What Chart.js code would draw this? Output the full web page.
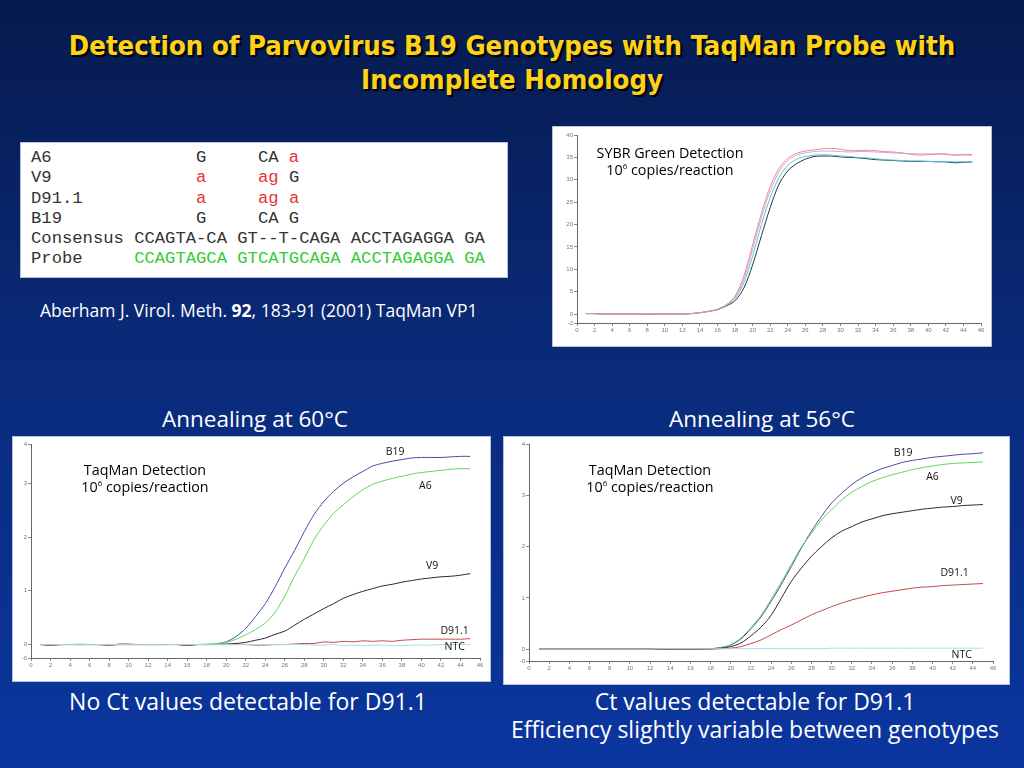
<!DOCTYPE html>
<html>
<head>
<meta charset="utf-8">
<script src="https://cdn.jsdelivr.net/npm/chart.js@4.4.0/dist/chart.umd.min.js"></script>
<style>
  html, body { margin: 0; padding: 0; }
  body {
    width: 1024px; height: 768px; position: relative; overflow: hidden;
    background: linear-gradient(180deg, #061a4e 0%, #0a2a78 45%, #0b36a0 100%);
    font-family: "Open Sans", "DejaVu Sans", sans-serif;
  }
  .abs { position: absolute; }
  .title {
    left: 0; width: 1024px; top: 29px; text-align: center;
    font-family: "DejaVu Sans Condensed", "DejaVu Sans", sans-serif;
    font-weight: bold; font-size: 27.3px; line-height: 34px; color: #ffd21a;
    text-shadow: 2px 2px 1px #000;
  }
  .white { color: #fff; }
  .box { background: #fff; border: 1px solid #b8c0d8; }
  .seq {
    left: 20px; top: 142px; width: 488px; height: 136px;
    font-family: "Liberation Mono", "DejaVu Sans Mono", monospace;
    font-size: 17.2px; line-height: 20.3px; color: #333; white-space: pre;
    padding: 5px 0 0 10px; box-sizing: border-box;
  }
  .r { color: #e83030; }
  .g { color: #33cc33; }
  .note { font-size: 14.3px; color: #000; text-align: center; line-height: 17px; }
  .note sup { font-size: 8px; line-height: 0; }
  canvas { position: absolute; }
</style>
</head>
<body>
<div class="abs title">Detection of Parvovirus B19 Genotypes with TaqMan Probe with<br>Incomplete Homology</div>

<div class="abs box seq">A6              G     CA <span class="r">a</span>
V9              <span class="r">a</span>     <span class="r">ag</span> G
D91.1           <span class="r">a</span>     <span class="r">ag a</span>
B19             G     CA G
Consensus CCAGTA-CA GT--T-CAGA ACCTAGAGGA GA
Probe     <span class="g">CCAGTAGCA GTCATGCAGA ACCTAGAGGA GA</span></div>

<div class="abs white" style="left:40px; top:298px; font-size:17.5px;">Aberham J. Virol. Meth. <b>92</b>, 183-91 (2001) TaqMan VP1</div>

<div class="abs box" style="left:552px; top:126px; width:438px; height:219px;"></div>
<canvas id="sybr" width="438" height="219" style="left:552px; top:126px;"></canvas>
<div class="abs note" style="left:580px; width:180px; top:144px;">SYBR Green Detection<br>10<sup>6</sup> copies/reaction</div>

<div class="abs white" style="left:105px; width:300px; top:403px; text-align:center; font-size:22.5px;">Annealing at 60°C</div>
<div class="abs white" style="left:612px; width:300px; top:403px; text-align:center; font-size:22.5px;">Annealing at 56°C</div>

<div class="abs box" style="left:12px; top:436px; width:477px; height:244px;"></div>
<canvas id="t60" width="477" height="244" style="left:12px; top:436px;"></canvas>
<div class="abs note" style="left:55px; width:180px; top:461px;">TaqMan Detection<br>10<sup>6</sup> copies/reaction</div>

<div class="abs box" style="left:503px; top:436px; width:505px; height:247px;"></div>
<canvas id="t56" width="505" height="247" style="left:503px; top:436px;"></canvas>
<div class="abs note" style="left:560px; width:180px; top:461px;">TaqMan Detection<br>10<sup>6</sup> copies/reaction</div>

<div class="abs white" style="left:0px; width:496px; top:687px; text-align:center; font-size:23px; line-height:28px;">No Ct values detectable for D91.1</div>
<div class="abs white" style="left:505px; width:500px; top:687px; text-align:center; font-size:23px; line-height:28px;">Ct values detectable for D91.1<br>Efficiency slightly variable between genotypes</div>

<script>
// PCR cycles
const cycles = [1,2,3,4,5,6,7,8,9,10,11,12,13,14,15,16,17,18,19,20,21,22,23,24,25,26,27,28,29,30,31,32,33,34,35,36,37,38,39,40,41,42,43,44,45];
const xTicks = [0,2,4,6,8,10,12,14,16,18,20,22,24,26,28,30,32,34,36,38,40,42,44,46];

// SYBR green, 4 genotypes
const sybrPink = [0.1,0.1,0,0,0,0,0,0,0,0,0,0,0.1,0.3,0.6,1.1,2.1,4.0,8.5,15.5,22.5,28.5,32.5,34.8,35.9,36.4,36.7,36.9,37.0,36.8,36.5,36.5,36.6,36.5,36.3,36.2,36.0,35.7,35.5,35.6,35.8,35.8,35.5,35.7,35.6];
const sybrLav = [0.1,0.1,0,0,0,0,0,0,0,0,0,0,0.1,0.3,0.6,1.1,2.0,3.8,7.8,14.5,21.5,27.5,31.8,34.3,35.5,36.0,36.3,36.4,36.4,36.3,36.2,36.3,36.3,36.2,36.1,36.0,35.9,35.8,35.8,35.8,35.7,35.6,35.5,35.5,35.5];
const sybrCyan = [0.1,0.1,0,0,0,0,0,0,0,0,0,0,0.1,0.3,0.6,1.0,1.9,3.5,7.0,13.0,20.0,26.0,30.5,33.2,34.6,35.2,35.5,35.6,35.5,35.3,35.2,35.0,34.9,34.7,34.5,34.4,34.3,34.2,34.2,34.1,34.1,34.1,34.0,34.0,34.0];
const sybrDark = [0.1,0.1,0,0,0,0,0,-0.1,0,0,0,0,0.1,0.3,0.6,1.0,1.8,3.0,5.8,11.0,17.5,23.8,29.0,32.0,33.6,34.6,35.2,35.3,35.3,35.1,35.0,34.9,34.7,34.5,34.4,34.3,34.2,34.1,34.1,34.1,34.0,34.0,33.8,33.9,34.0];
const sybrYTicks = [-2,0,5,10,15,20,25,30,35,40];
const sybrYLabels = ['-2','0','5','10','15','20','25','30','35','40'];

// TaqMan, annealing 60 C
const t60B19 = [0,0,0,0,0,0,0,0,0,0,0,0,0,0,0,-0.01,0,0,0.01,0.05,0.15,0.3,0.52,0.76,1.07,1.42,1.75,2.1,2.42,2.66,2.85,3.0,3.12,3.22,3.32,3.37,3.41,3.44,3.47,3.48,3.48,3.48,3.49,3.5,3.5];
const t60A6 = [0,-0.01,0,0,0.01,0,0,0,0,0,0,0,0,0,0,-0.01,0,0.01,0.02,0.04,0.1,0.18,0.28,0.4,0.6,0.9,1.27,1.6,1.95,2.22,2.44,2.6,2.75,2.88,2.98,3.04,3.09,3.13,3.17,3.2,3.22,3.24,3.26,3.27,3.27];
const t60V9 = [0,-0.01,0,0,0,0,0,-0.01,0,0,0,0,0,0,0,-0.01,0,0,0,0.01,0.02,0.04,0.08,0.12,0.19,0.25,0.36,0.47,0.57,0.67,0.76,0.86,0.93,0.99,1.04,1.09,1.12,1.16,1.19,1.22,1.24,1.26,1.27,1.29,1.32];
const t60D91 = [0,-0.01,0,0,0,0,0,-0.01,0.01,0.01,0,0,0,0,0,-0.01,0,0,0,0,0,0,-0.01,-0.01,0,0,0.01,0.02,0.02,0.05,0.04,0.06,0.05,0.07,0.06,0.07,0.06,0.08,0.09,0.1,0.1,0.1,0.1,0.1,0.11];
const t60NTC = [0,0,0,0,0,0,0,0,0,0,0,0,0,0,0,0,0,0,0,0,0,0,0,0,0,0,0,0,-0.01,-0.01,0,-0.02,-0.01,-0.02,-0.01,-0.01,-0.02,-0.02,-0.01,-0.01,-0.01,0,0,0,0];
const t60YTicks = [-0.25,0,1,2,3,3.73];
const t60YLabels = ['-0','0','1','2','3','4'];

// TaqMan, annealing 56 C
const t56B19 = [0,0,0,0,0,0,0,0,0,0,0,0,0,0,0,0,0.01,0.01,0.03,0.08,0.2,0.4,0.63,0.93,1.26,1.61,1.97,2.3,2.59,2.85,3.04,3.21,3.34,3.44,3.52,3.58,3.64,3.68,3.71,3.74,3.76,3.78,3.8,3.81,3.83];
const t56A6 = [0,0,0,0,0,0,0,0,0,0,0,0,0,0.01,0,0,0.01,0.01,0.03,0.09,0.22,0.42,0.66,0.97,1.3,1.65,1.99,2.26,2.52,2.72,2.91,3.06,3.17,3.27,3.34,3.4,3.45,3.5,3.54,3.57,3.6,3.62,3.63,3.64,3.65];
const t56V9 = [0,0,0,0,0,0,0,0,0,0,0,0,0,0,0,0,0,0.01,0.02,0.05,0.12,0.26,0.43,0.66,0.99,1.32,1.58,1.81,2.0,2.17,2.3,2.39,2.48,2.54,2.6,2.64,2.67,2.7,2.73,2.75,2.77,2.78,2.8,2.81,2.82];
const t56D91 = [0,0,0,0,0,0,0,0,0,0,0,0,0,0,0,0,0,0,0.01,0.02,0.05,0.11,0.18,0.28,0.38,0.47,0.57,0.67,0.75,0.83,0.9,0.96,1.01,1.06,1.1,1.13,1.16,1.19,1.21,1.22,1.24,1.25,1.26,1.27,1.28];
const t56NTC = [0,0,0,0,0,0,0,0,0,0,0,0,0.01,0.01,0.01,0.01,0.01,0.01,0.01,0.01,0.01,0.01,0.01,0.01,0.01,0.01,0.01,0.01,0.01,0.02,0.02,0.02,0.02,0.02,0.02,0.02,0.02,0.02,0.02,0.02,0.02,0.02,0.02,0.02,0.02];
const t56YTicks = [-0.23,0,1,2,3,4];
const t56YLabels = ['-0','0','1','2','3','4'];

const COLORS = {
  B19: '#4848a8', A6: '#5fd65f', V9: '#2a2a2a', 'D91.1': '#c44a4a', NTC: '#a6dde6',
  pink: '#e58aa0', lav: '#d6a4d8', cyan: '#5cc6d4', dark: '#1e3838'
};

// curve name labels, placed in data units
const curveLabelPlugin = {
  id: 'curveLabels',
  afterDatasetsDraw(chart) {
    const labels = chart.options.plugins.curveLabels.items || [];
    const { ctx, scales: { x, y } } = chart;
    ctx.save();
    ctx.font = '10.5px "Open Sans", sans-serif';
    ctx.fillStyle = '#111';
    ctx.textAlign = 'center';
    ctx.textBaseline = 'middle';
    labels.forEach(l => ctx.fillText(l.text, x.getPixelForValue(l.x), y.getPixelForValue(l.y)));
    ctx.restore();
  }
};

function toPoints(vals) {
  return cycles.map((c, i) => ({ x: c, y: vals[i] }));
}

function makeChart(id, series, cfg) {
  const ctx = document.getElementById(id).getContext('2d');
  return new Chart(ctx, {
    type: 'line',
    data: {
      datasets: series.map(s => ({
        label: s.name, data: toPoints(s.data), borderColor: s.color,
        borderWidth: 1, pointRadius: 0, tension: 0.3, fill: false
      }))
    },
    options: {
      responsive: false,
      animation: false,
      layout: { padding: { top: cfg.top, right: cfg.right, left: 0, bottom: 0 } },
      plugins: {
        legend: { display: false },
        tooltip: { enabled: false },
        curveLabels: { items: cfg.labels }
      },
      scales: {
        x: {
          type: 'linear', min: 0, max: 46,
          afterBuildTicks: s => { s.ticks = xTicks.map(v => ({ value: v })); },
          afterFit: s => { s.height = cfg.bottom; },
          ticks: { autoSkip: false, maxRotation: 0, padding: 1, color: '#777', font: { size: 6 } },
          grid: { drawOnChartArea: false, tickLength: 3, color: '#888' },
          border: { color: '#666' }
        },
        y: {
          min: cfg.yTicks[0], max: cfg.yTicks[cfg.yTicks.length - 1],
          afterBuildTicks: s => { s.ticks = cfg.yTicks.map(v => ({ value: v })); },
          afterFit: s => { s.width = cfg.left; },
          ticks: { callback: (v, i) => cfg.yLabels[i], padding: 1, color: '#777', font: { size: 6 } },
          grid: { drawOnChartArea: false, tickLength: 3, color: '#888' },
          border: { color: '#666' }
        }
      }
    },
    plugins: [curveLabelPlugin]
  });
}

makeChart('sybr', [
  { name: 'pink', data: sybrPink, color: COLORS.pink },
  { name: 'lav', data: sybrLav, color: COLORS.lav },
  { name: 'cyan', data: sybrCyan, color: COLORS.cyan },
  { name: 'dark', data: sybrDark, color: COLORS.dark }
], { yTicks: sybrYTicks, yLabels: sybrYLabels, left: 25, right: 9, top: 9, bottom: 22, labels: [] });

makeChart('t60', [
  { name: 'NTC', data: t60NTC, color: COLORS.NTC },
  { name: 'D91.1', data: t60D91, color: COLORS['D91.1'] },
  { name: 'V9', data: t60V9, color: COLORS.V9 },
  { name: 'A6', data: t60A6, color: COLORS.A6 },
  { name: 'B19', data: t60B19, color: COLORS.B19 }
], { yTicks: t60YTicks, yLabels: t60YLabels, left: 19, right: 9, top: 8, bottom: 22,
  labels: [
    { text: 'B19', x: 37.3, y: 3.58 }, { text: 'A6', x: 40.4, y: 2.95 },
    { text: 'V9', x: 41.1, y: 1.46 }, { text: 'D91.1', x: 43.4, y: 0.26 },
    { text: 'NTC', x: 43.4, y: -0.04 }
  ] });

makeChart('t56', [
  { name: 'NTC', data: t56NTC, color: COLORS.NTC },
  { name: 'D91.1', data: t56D91, color: COLORS['D91.1'] },
  { name: 'V9', data: t56V9, color: COLORS.V9 },
  { name: 'A6', data: t56A6, color: COLORS.A6 },
  { name: 'B19', data: t56B19, color: COLORS.B19 }
], { yTicks: t56YTicks, yLabels: t56YLabels, left: 26, right: 15, top: 8, bottom: 22,
  labels: [
    { text: 'B19', x: 37.1, y: 3.83 }, { text: 'A6', x: 40.0, y: 3.36 },
    { text: 'V9', x: 42.4, y: 2.89 }, { text: 'D91.1', x: 42.2, y: 1.48 },
    { text: 'NTC', x: 42.9, y: -0.12 }
  ] });
</script>
</body>
</html>
